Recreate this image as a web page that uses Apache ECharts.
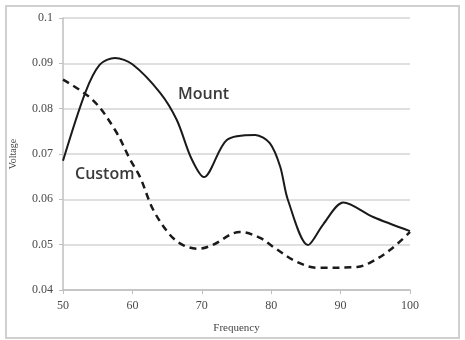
<!DOCTYPE html>
<html>
<head>
<meta charset="utf-8">
<script src="https://cdn.jsdelivr.net/npm/echarts@6/dist/echarts.min.js"></script>
<style>html,body{margin:0;padding:0;background:#fff}#c{width:465px;height:340px}</style>
</head>
<body>
<div id="c"></div>
<script>
const mountX = [50, 53.2, 55.3, 57.5, 60, 64, 66.4, 68.5, 70.3, 73.6, 77.7, 79.8, 81.3, 82.4, 85.3, 87.5, 90.4, 94.7, 100];
const mountY = [0.0685, 0.0835, 0.0897, 0.0912, 0.0898, 0.0835, 0.0775, 0.069, 0.0649, 0.0731, 0.0742, 0.0724, 0.0672, 0.0599, 0.0499, 0.0545, 0.0593, 0.0561, 0.0530];
const customX = [50, 54.3, 57.5, 59.7, 61.1, 63, 65.4, 67.3, 69.5, 71.5, 75.5, 78.4, 80.3, 83.7, 86.7, 92.4, 94.2, 97.1, 100];
const customY = [0.0864, 0.0819, 0.0753, 0.0687, 0.0649, 0.0577, 0.0522, 0.0499, 0.0491, 0.0499, 0.0528, 0.0515, 0.0495, 0.0462, 0.0449, 0.0451, 0.0460, 0.0488, 0.0528];
const xTicks = [50, 60, 70, 80, 90, 100];
const yTicks = [0.04, 0.05, 0.06, 0.07, 0.08, 0.09, 0.1];
const xTitle = 'Frequency';
const yTitle = 'Voltage';
const seriesNames = ['Mount', 'Custom'];

const zip = (a, b) => a.map((v, i) => [v, b[i]]);
const chart = echarts.init(document.getElementById('c'), null, {renderer: 'canvas'});
const serif = '"Liberation Serif", "DejaVu Serif", serif';
chart.setOption({
  animation: false,
  backgroundColor: '#fff',
  grid: {left: 63, right: 55, top: 18, bottom: 50},
  xAxis: {
    type: 'value', min: xTicks[0], max: xTicks[xTicks.length - 1], interval: 10,
    name: xTitle, nameLocation: 'middle', nameGap: 33,
    nameTextStyle: {fontFamily: serif, fontSize: 11, color: '#444'},
    axisLine: {lineStyle: {color: '#bfbfbf', width: 1.5}},
    axisTick: {show: true, length: 4, lineStyle: {color: '#bfbfbf'}},
    axisLabel: {fontFamily: serif, fontSize: 12, color: '#4a4a4a', margin: 10},
    splitLine: {show: false}
  },
  yAxis: {
    type: 'value', min: yTicks[0], max: yTicks[yTicks.length - 1], interval: 0.01,
    name: yTitle, nameLocation: 'middle', nameGap: 45, nameRotate: 90,
    nameTextStyle: {fontFamily: serif, fontSize: 10, color: '#444'},
    axisLine: {show: true, lineStyle: {color: '#bfbfbf', width: 1.5}},
    axisTick: {show: true, length: 4, lineStyle: {color: '#bfbfbf'}},
    axisLabel: {fontFamily: serif, fontSize: 12, color: '#4a4a4a', margin: 10,
      formatter: v => String(+v.toFixed(2))},
    splitLine: {lineStyle: {color: '#d4d4d4', width: 1.5}}
  },
  series: [
    {name: seriesNames[0], type: 'line', smooth: 0.3, symbol: 'none',
     lineStyle: {color: '#1a1a1a', width: 2}, data: zip(mountX, mountY)},
    {name: seriesNames[1], type: 'line', smooth: 0.35, symbol: 'none',
     lineStyle: {color: '#1a1a1a', width: 2.5, type: [7, 5]}, data: zip(customX, customY)}
  ],
  graphic: [
    {type: 'rect', shape: {x: 6, y: 6, width: 453, height: 332}, silent: true, z: -10,
     style: {fill: 'none', stroke: '#d0d0d0', lineWidth: 2}},
    {type: 'text', x: 178, y: 86, style: {text: seriesNames[0], font: '600 16px "Open Sans", "Noto Sans", sans-serif', fill: '#3a3a3a'}},
    {type: 'text', x: 75, y: 166, style: {text: seriesNames[1], font: '600 16px "Open Sans", "Noto Sans", sans-serif', fill: '#3a3a3a'}}
  ]
});
</script>
</body>
</html>
